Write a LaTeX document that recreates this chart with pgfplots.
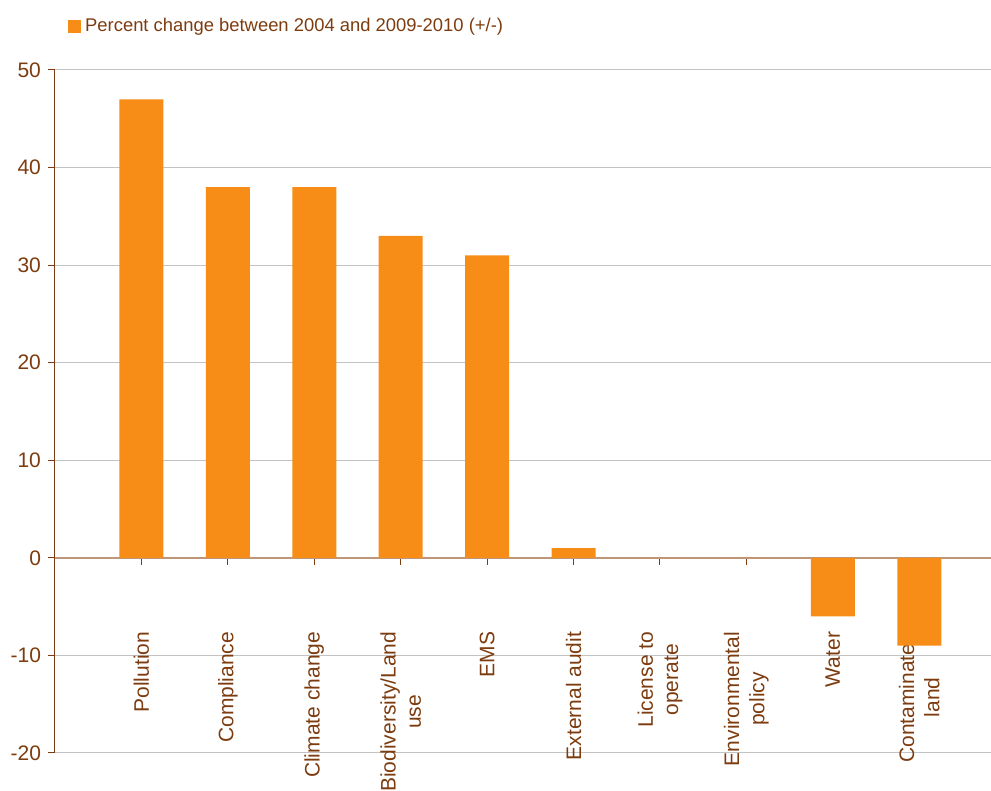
\documentclass[border=0pt]{standalone}
\usepackage{pgfplots}
\pgfplotsset{compat=1.18}
\usepackage{fontspec}
\setmainfont{Liberation Sans}
\definecolor{barorange}{RGB}{247,140,22}
\definecolor{txtbrown}{RGB}{125,60,15}
\definecolor{zeroline}{RGB}{190,150,122}
\definecolor{gridgray}{RGB}{195,195,195}
\begin{document}
\begin{tikzpicture}
\begin{axis}[
    scale only axis,
    width=468pt, height=341.5pt,
    ybar, bar width=22pt,
    xmin=-1, xmax=9.83,
    ymin=-20, ymax=50,
    ytick={-20,-10,...,50},
    xtick=data,
    xticklabels={Pollution, Compliance, Climate change, {Biodiversity/Land\\use}, EMS,
        External audit, {License to\\operate}, {Environmental\\policy}, Water, {Contaminated\\land}},
    axis y line*=left,
    axis x line*=middle,
    y axis line style={txtbrown, line width=0.5pt},
    x axis line style={zeroline, line width=1pt},
    tick align=outside,
    major tick length=3.5pt,
    ytick style={txtbrown, line width=0.5pt},
    xtick style={txtbrown, line width=0.5pt},
    ymajorgrids,
    grid style={gridgray, line width=0.5pt},
    /pgf/number format/assume math mode=true,
    tick label style={font=\fontsize{10.5}{12.6}\selectfont, text=txtbrown},
    xticklabel style={rotate=90, anchor=east, align=center, xshift=-30pt},
    legend style={draw=none, fill=none, at={(0,1)}, anchor=south west,
        xshift=3.5pt, yshift=13.5pt, font=\fontsize{9.2}{11}\selectfont, text=txtbrown,
        legend cell align=left},
    legend image code/.code={\fill[barorange] (0pt,-3.2pt) rectangle (6.4pt,3.2pt);},
]
\addplot[fill=barorange, draw=none] coordinates {
    (0,47) (1,38) (2,38) (3,33) (4,31) (5,1) (6,0) (7,0) (8,-6) (9,-9)
};
\addlegendentry{Percent change between 2004 and 2009-2010 (+/-)}
\coordinate (bl) at (rel axis cs:0,0);
\end{axis}
\pgfresetboundingbox
\path[use as bounding box] ([shift={(-27.5pt,-19pt)}]bl) rectangle ([shift={(468pt,376.5pt)}]bl);
\end{tikzpicture}
\end{document}
